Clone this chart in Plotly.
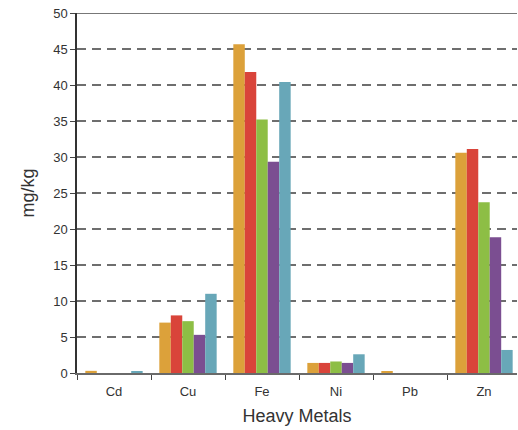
import plotly.graph_objects as go

metals = ["Cd", "Cu", "Fe", "Ni", "Pb", "Zn"]
series_names = ["S1", "S2", "S3", "S4", "S5"]
s1 = [0.3, 7.0, 45.65, 1.4, 0.15, 30.6]
s2 = [0.0, 8.0, 41.8, 1.4, 0.0, 31.1]
s3 = [0.0, 7.2, 35.2, 1.6, 0.0, 23.7]
s4 = [0.0, 5.3, 29.35, 1.4, 0.0, 18.85]
s5 = [0.15, 11.0, 40.4, 2.6, 0.0, 3.2]
colors = ["#DCA13A", "#D9443A", "#8DBE45", "#7B4E91", "#68A7B8"]
yticks = [0, 5, 10, 15, 20, 25, 30, 35, 40, 45, 50]

fig = go.Figure()
for name, vals, c in zip(series_names, [s1, s2, s3, s4, s5], colors):
    fig.add_trace(go.Bar(x=metals, y=vals, name=name, marker=dict(color=c, line=dict(width=0))))

fig.update_layout(
    width=518, height=430,
    margin=dict(l=77, r=1, t=13, b=57),
    barmode="group", bargap=0.225, bargroupgap=0,
    plot_bgcolor="white", paper_bgcolor="white",
    showlegend=False,
    font=dict(family="Liberation Sans, Arial, sans-serif", color="#333333", size=13),
)
fig.add_shape(type="line", xref="paper", yref="y", x0=0, x1=1, y0=50, y1=50,
              line=dict(color="#777777", width=2))
fig.update_xaxes(
    range=[-0.5, 5.446],
    showline=True, linecolor="#6a6a6a", linewidth=2,
    ticks="outside", tickson="boundaries", ticklen=5, tickcolor="#444", tickwidth=1.2,
    showgrid=False, ticklabelstandoff=5,
    tickfont=dict(size=13, color="#333"),
    title=dict(text="Heavy Metals", font=dict(size=18, color="#333"), standoff=12),
)
fig.update_yaxes(
    range=[0, 50], tickvals=yticks,
    showline=True, linecolor="#333333", linewidth=1.5,
    ticks="outside", ticklen=5, tickcolor="#444", tickwidth=1.2,
    showgrid=True, gridcolor="#6e6e6e", gridwidth=1.5, griddash="9px,6px",
    zeroline=False,
    tickfont=dict(size=13, color="#333"),
    title=dict(text="mg/kg", font=dict(size=18, color="#333"), standoff=14),
)
fig.write_html("out.html")
